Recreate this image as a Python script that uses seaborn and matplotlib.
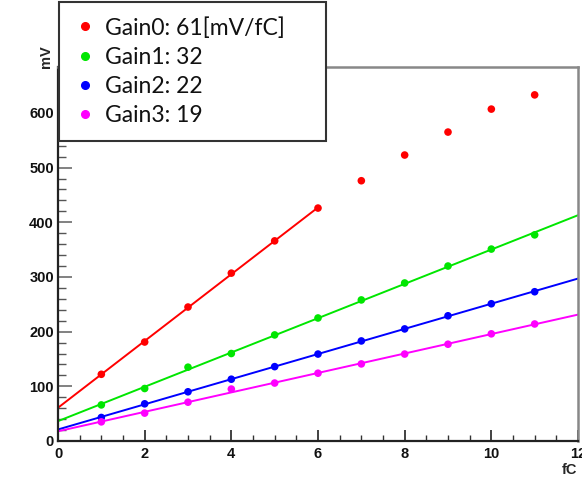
import numpy as np
import pandas as pd
import matplotlib
matplotlib.use("Agg")
import matplotlib.pyplot as plt
from matplotlib.lines import Line2D
from matplotlib.ticker import MultipleLocator
import seaborn as sns

# ---- data ----
charge_fC = [1, 2, 3, 4, 5, 6, 7, 8, 9, 10, 11]
gain0_mV = [122, 181, 245, 307, 366, 426, 476, 523, 565, 607, 633]
gain1_mV = [66, 96, 135, 160, 194, 225, 258, 289, 320, 351, 377]
gain2_mV = [43, 68, 90, 113, 136, 159, 183, 205, 229, 251, 273]
gain3_mV = [35, 51, 71, 95, 106, 124, 141, 159, 177, 196, 214]
series_labels = ["Gain0: 61[mV/fC]", "Gain1: 32", "Gain2: 22", "Gain3: 19"]
series_colors = ["#ff0000", "#00e600", "#0000ff", "#ff00ff"]
fit_points = [6, 11, 11, 11]      # number of points used in each linear fit
fit_range = [(0, 6), (0, 12), (0, 12), (0, 12)]

sns.set_theme(style="white")
plt.rcParams["font.family"] = ["Liberation Sans", "DejaVu Sans"]

W, H = 582, 487
fig = plt.figure(figsize=(W / 100, H / 100), dpi=100)
ax = fig.add_axes([58 / W, 46 / H, 520 / W, 374 / H])

all_series = [gain0_mV, gain1_mV, gain2_mV, gain3_mV]
handles = []
for vals, lab, col, n, rng in zip(all_series, series_labels, series_colors, fit_points, fit_range):
    x = np.array(charge_fC[:n], dtype=float)
    y = np.array(vals[:n], dtype=float)
    slope, icpt = np.polyfit(x, y, 1)
    fx = np.array(rng, dtype=float)
    fit_df = pd.DataFrame({"fC": fx, "mV": icpt + slope * fx})
    sns.lineplot(data=fit_df, x="fC", y="mV", color=col, lw=1.4, ax=ax, legend=False, zorder=2)
    df = pd.DataFrame({"fC": charge_fC, "mV": vals})
    sns.scatterplot(data=df, x="fC", y="mV", color=col, s=30, edgecolor="none", ax=ax, legend=False, zorder=3)
    handles.append(Line2D([], [], marker="o", ls="none", color=col, markersize=5.5, label=lab))

ax.set_xlim(0, 12)
ax.set_ylim(0, 684)
ax.xaxis.set_major_locator(MultipleLocator(2))
ax.xaxis.set_minor_locator(MultipleLocator(0.5))
ax.yaxis.set_major_locator(MultipleLocator(100))
ax.yaxis.set_minor_locator(MultipleLocator(20))
ax.tick_params(axis="both", which="both", direction="in", bottom=True, left=True, top=False, right=False)
ax.tick_params(axis="x", which="major", length=8, width=1.3, color="#333333", pad=4, labelsize=10.5)
ax.tick_params(axis="x", which="minor", length=4.5, width=1.0, color="#333333")
ax.tick_params(axis="y", which="major", length=10, width=1.3, color="#777777", pad=3, labelsize=10.5)
ax.tick_params(axis="y", which="minor", length=5.5, width=1.0, color="#555555")
for t in ax.get_xticklabels() + ax.get_yticklabels():
    t.set_fontweight("bold")
    t.set_color("#111111")
ax.set_xlabel("")
ax.set_ylabel("")
for s in ["left", "bottom"]:
    ax.spines[s].set_color("#222222")
    ax.spines[s].set_linewidth(1.6)
for s in ["right", "top"]:
    ax.spines[s].set_color("#888888")
    ax.spines[s].set_linewidth(1.8)

fig.text(46 / W, 1 - 57 / H, "mV", rotation=90, ha="center", va="center", fontsize=10.5, fontweight="bold")
fig.text(570 / W, 1 - 470 / H, "fC", ha="center", va="center", fontsize=10.5, fontweight="bold")

leg = ax.legend(handles=handles, loc="upper left",
                bbox_to_anchor=(59 / W, 1 - 2 / H, 267 / W, 0.0),
                bbox_transform=fig.transFigure, mode="expand",
                borderaxespad=0, frameon=True, fancybox=False,
                handlelength=1.0, handletextpad=0.35, borderpad=0.65,
                labelspacing=0.36, prop={"family": ["Lato", "DejaVu Sans"], "size": 16.5})
for t in leg.get_texts():
    t.set_color("#111111")
frame = leg.get_frame()
frame.set_edgecolor("#333333")
frame.set_linewidth(1.5)
frame.set_facecolor("white")
frame.set_alpha(1)

fig.savefig("out.png", dpi=100)
